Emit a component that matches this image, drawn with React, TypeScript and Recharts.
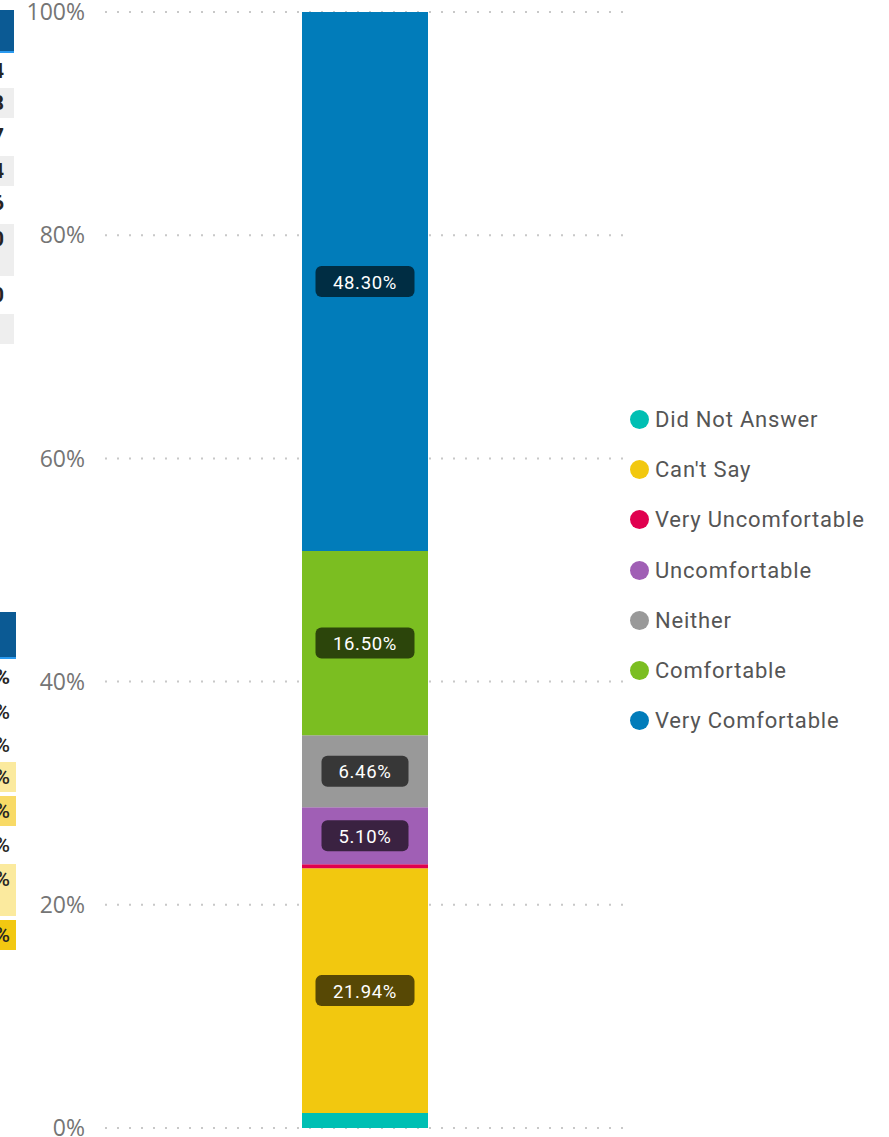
import React from 'react';
import { BarChart, Bar, XAxis, YAxis, CartesianGrid, LabelList } from 'recharts';

const categories = ['All respondents'];
const seriesNames = ['Did Not Answer', "Can't Say", 'Very Uncomfortable', 'Uncomfortable', 'Neither', 'Comfortable', 'Very Comfortable'];
const seriesValues = [1.34, 21.94, 0.36, 5.10, 6.46, 16.50, 48.30];
const seriesColors = ['#00BFB3', '#F2C80F', '#E0004F', '#A05FB5', '#999999', '#7BBE21', '#017CBA'];
const yTicks = [0, 20, 40, 60, 80, 100];

// cropped fragments of a neighbouring table visual at the left edge
const topTableTexts = ['4', '8', '7', '4', '6', '0', '0', ''];
const bottomTableTexts = ['%', '%', '%', '%', '%', '%', '%', '%'];

const data = categories.map((c) => {
  const row: Record<string, any> = { category: c };
  seriesNames.forEach((n, i) => (row[n] = seriesValues[i]));
  return row;
});

const FONT = "Roboto, 'Noto Sans', sans-serif";

const makeLabel = (color: string) => (props: any) => {
  const { x, y, width, height, value } = props;
  if (value == null || value < 3) return null;
  const text = `${Number(value).toFixed(2)}%`;
  const w = text.length * 12 + 27;
  const h = 31;
  const cx = x + width / 2;
  const cy = y + height / 2;
  return (
    <g>
      <rect x={cx - w / 2} y={cy - h / 2} width={w} height={h} rx={6} ry={6} fill={color} />
      <rect x={cx - w / 2} y={cy - h / 2} width={w} height={h} rx={6} ry={6} fill="rgba(0,0,0,0.64)" />
      <text x={cx} y={cy + 1} fill="#ffffff" fontSize={18.5} fontWeight={400} fontFamily={FONT} textAnchor="middle" dominantBaseline="central" letterSpacing={0.7}>
        {text}
      </text>
    </g>
  );
};

const Fragments = () => {
  const topRows = [
    { y: 56, h: 30, band: false },
    { y: 88, h: 30, band: true },
    { y: 121, h: 32, band: false },
    { y: 156, h: 30, band: true },
    { y: 188, h: 32, band: false },
    { y: 224, h: 52, band: true },
    { y: 280, h: 32, band: false },
    { y: 314, h: 30, band: true },
  ];
  const botRows = [
    { y: 662, h: 30, bg: 'transparent', bold: true },
    { y: 697, h: 30, bg: 'transparent', bold: false },
    { y: 730, h: 30, bg: 'transparent', bold: false },
    { y: 762, h: 30, bg: '#FBEA9E', bold: false },
    { y: 796, h: 30, bg: '#F8DA66', bold: false },
    { y: 830, h: 30, bg: 'transparent', bold: false },
    { y: 864, h: 52, bg: '#FBEA9E', bold: false },
    { y: 920, h: 30, bg: '#F2C811', bold: false },
  ];
  return (
    <>
      <div style={{ position: 'absolute', left: 0, top: 10, width: 14, height: 41, background: '#0B5A94' }} />
      <div style={{ position: 'absolute', left: 0, top: 51, width: 14, height: 2, background: '#2A9AF0' }} />
      {topRows.map((r, i) => (
        <div key={'t' + i} style={{ position: 'absolute', left: -40, top: r.y, width: 54, height: r.h, overflow: 'hidden' }}>
          {r.band && <div style={{ position: 'absolute', left: 40, top: 0, width: 14, height: r.h, background: '#EEEEEE' }} />}
          <div style={{ position: 'absolute', right: 10, top: 0, height: Math.min(r.h, 30), lineHeight: '30px', fontSize: 21, fontWeight: 700, color: '#252423', fontFamily: FONT }}>
            {topTableTexts[i] ? '1' + topTableTexts[i] : ''}
          </div>
        </div>
      ))}
      <div style={{ position: 'absolute', left: 0, top: 612, width: 16, height: 45, background: '#0B5A94' }} />
      <div style={{ position: 'absolute', left: 0, top: 657, width: 16, height: 2, background: '#2A9AF0' }} />
      {botRows.map((r, i) => (
        <div key={'b' + i} style={{ position: 'absolute', left: -40, top: r.y, width: 56, height: r.h, overflow: 'hidden' }}>
          <div style={{ position: 'absolute', left: 40, top: 0, width: 16, height: r.h, background: r.bg }} />
          <div style={{ position: 'absolute', right: 6, top: 0, lineHeight: '30px', fontSize: 21, fontWeight: r.bold ? 700 : 500, color: '#252423', fontFamily: FONT }}>
            {'0' + bottomTableTexts[i]}
          </div>
        </div>
      ))}
    </>
  );
};

const LegendBox = () => (
  <div style={{ position: 'absolute', left: 630, top: 394, fontFamily: FONT }}>
    {seriesNames.map((n, i) => (
      <div key={n} style={{ display: 'flex', alignItems: 'center', height: 50.3 }}>
        <div style={{ width: 19, height: 19, borderRadius: '50%', background: seriesColors[i], marginRight: 6 }} />
        <span style={{ fontSize: 22, color: '#555555', letterSpacing: 0.8, whiteSpace: 'nowrap' }}>{n}</span>
      </div>
    ))}
  </div>
);

export default function App() {
  return (
    <div style={{ position: 'absolute', left: 0, top: 0, width: 889, height: 1137, overflow: 'hidden', background: '#ffffff' }}>
      <Fragments />
      <div style={{ position: 'absolute', left: 0, top: 0 }}>
        <BarChart width={889} height={1137} data={data} margin={{ top: 12, right: 264, bottom: 9, left: 0 }}>
          <CartesianGrid vertical={false} stroke="#C8C8C8" strokeWidth={2} strokeDasharray="2 10" />
          <XAxis dataKey="category" hide />
          <YAxis
            width={105}
            domain={[0, 100]}
            ticks={yTicks}
            interval={0}
            tickFormatter={(v: number) => `${v}%`}
            axisLine={false}
            tickLine={false}
            tickSize={0}
            tickMargin={20}
            tick={{ fill: '#757575', fontSize: 23, fontFamily: "'Open Sans', sans-serif", fontWeight: 400 }}
          />
          {seriesNames.map((n, i) => (
            <Bar key={n} dataKey={n} stackId="a" fill={seriesColors[i]} barSize={126} isAnimationActive={false}>
              <LabelList dataKey={n} content={makeLabel(seriesColors[i])} />
            </Bar>
          ))}
        </BarChart>
      </div>
      <LegendBox />
    </div>
  );
}
